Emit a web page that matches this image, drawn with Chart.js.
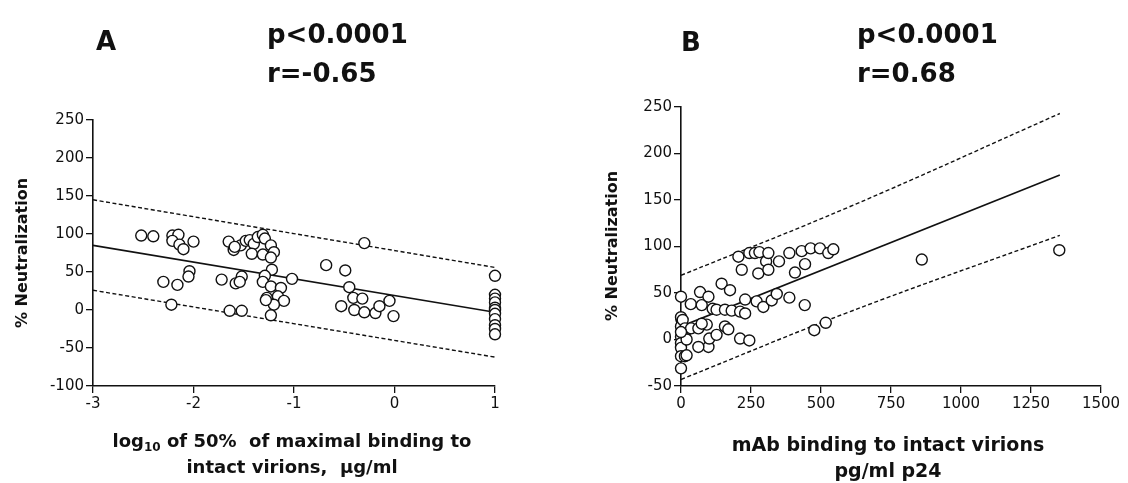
<!DOCTYPE html>
<html>
<head>
<meta charset="utf-8">
<script src="https://cdn.jsdelivr.net/npm/chart.js@4.4.1/dist/chart.umd.min.js"></script>
<style>
  body { margin: 0; background: #fff; width: 1128px; height: 483px; overflow: hidden; position: relative; font-family: "DejaVu Sans", sans-serif; color: #111; }
  .panel { position: absolute; top: 0; width: 560px; height: 483px; }
  .lbl { position: absolute; font-weight: bold; white-space: nowrap; line-height: 1; }
  .big { font-size: 26px; }
  .xt { text-align: center; line-height: 26px; }
  .yt { font-size: 16px; transform: rotate(-90deg); transform-origin: center center; }
  sub { font-size: 12px; vertical-align: -4px; line-height: 0; }
</style>
</head>
<body>
<div class="panel" style="left:0"><canvas id="chartA" width="560" height="483"></canvas></div>
<div class="panel" style="left:560px;width:568px"><canvas id="chartB" width="568" height="483"></canvas></div>

<div class="lbl big" style="left:96px;top:28px">A</div>
<div class="lbl big" style="left:267px;top:21px">p&lt;0.0001</div>
<div class="lbl big" style="left:267px;top:60px">r=-0.65</div>
<div class="lbl big" style="left:681px;top:29px">B</div>
<div class="lbl big" style="left:857px;top:21px">p&lt;0.0001</div>
<div class="lbl big" style="left:857px;top:60px">r=0.68</div>

<div class="lbl yt" style="left:-58px;top:245px;width:160px;text-align:center">% Neutralization</div>
<div class="lbl yt" style="left:532px;top:238px;width:160px;text-align:center">% Neutralization</div>

<div class="lbl xt" style="left:92px;top:428px;width:400px;font-size:18px">log<sub>10</sub> of 50%&nbsp; of maximal binding to<br>intact virions,&nbsp; &micro;g/ml</div>
<div class="lbl xt" style="left:688px;top:431px;width:400px;font-size:19px">mAb binding to intact virions<br>pg/ml p24</div>

<script>
// panel A: log10 half-max binding vs % neutralization
var pointsA = [
    [-2.52, 98], [-2.40, 97], [-2.21, 98], [-2.15, 99], [-2.21, 91], [-2.14, 86], [-2.10, 80], [-2.00, 90],
    [-1.65, 90], [-1.60, 79], [-1.53, 85], [-1.48, 91], [-1.59, 83], [-1.44, 92], [-1.40, 87], [-1.42, 74],
    [-1.36, 96], [-1.31, 99], [-1.29, 94], [-1.23, 85], [-1.31, 73], [-1.20, 76], [-1.23, 69], [-1.22, 53],
    [-1.29, 45], [-1.31, 37], [-1.23, 31], [-1.13, 29], [-1.27, 16], [-1.16, 18], [-1.10, 12], [-1.20, 7],
    [-1.28, 13], [-1.23, -7], [-1.02, 41], [-0.68, 59], [-2.04, 51], [-2.05, 44], [-2.30, 37], [-2.16, 33],
    [-2.22, 7], [-1.72, 40], [-1.52, 44], [-1.58, 35], [-1.54, 37], [-1.64, -1], [-1.52, -1],
    [-0.30, 88], [-0.49, 52], [-0.45, 30], [-0.41, 16], [-0.32, 15], [-0.53, 5], [-0.40, 0], [-0.30, -3],
    [-0.19, -4], [-0.15, 5], [-0.05, 12], [-0.01, -8],
    [1, 45], [1, 20], [1, 15], [1, 10], [1, 3], [1, 0], [1, -5], [1, -12], [1, -20], [1, -25], [1, -32]
];
var fitA = [[-3, 85], [1, -3]];
var upperA = [[-3, 145], [1, 56]];
var lowerA = [[-3, 26], [1, -62]];
var xTicksA = [-3, -2, -1, 0, 1];
var yTicksA = [-100, -50, 0, 50, 100, 150, 200, 250];

// panel B: mAb binding (pg/ml p24) vs % neutralization
var pointsB = [
    [0, 46], [2, 21], [0, 24], [0, 14], [6, 21], [0, 3], [0, -4], [0, -9], [0, -18], [0, -31], [14, -18],
    [20, -17], [20, 10], [14, 12], [20, 0], [36, 12], [35, 38], [0, 8],
    [62, 12], [68, 51], [74, 37], [92, 16], [98, 46], [98, -8], [101, 1], [62, -8], [74, 17],
    [113, 33], [127, 32], [127, 5], [145, 60], [157, 32], [157, 14], [169, 11], [175, 53], [181, 31],
    [205, 89], [211, 30], [211, 1], [217, 75], [229, 43], [229, 28], [244, -1], [244, 93], [264, 93],
    [270, 41], [276, 71], [280, 94], [294, 35], [304, 84], [312, 93], [312, 75], [324, 42], [342, 49],
    [350, 84], [387, 93], [387, 45], [407, 72], [431, 95], [443, 81], [442, 37], [463, 98], [496, 98],
    [526, 93], [544, 97], [476, 10], [517, 18], [860, 86], [1351, 96]
];
var fitB = [[0, 14], [1353, 177]];
var upperB = [[0, 69], [604, 143], [1353, 243]];
var lowerB = [[0, -43], [604, 30], [1353, 112]];
var xTicksB = [0, 250, 500, 750, 1000, 1250, 1500];
var yTicksB = [-50, 0, 50, 100, 150, 200, 250];

Chart.defaults.font.family = '"DejaVu Sans", sans-serif';
Chart.defaults.color = '#111';
Chart.defaults.animation = false;

function toXY(arr) {
    return arr.map(function (p) { return { x: p[0], y: p[1] }; });
}

function makeScatter(id, pts, fit, upper, lower, xTicks, yTicks, box) {
    var ctx = document.getElementById(id);
    var lineSet = function (data, dash, width) {
        return {
            type: 'line',
            data: toXY(data),
            borderColor: '#111',
            borderWidth: width,
            borderDash: dash,
            pointRadius: 0,
            fill: false,
            tension: dash.length ? 0.4 : 0,
            order: 2,
        };
    };
    var plain = function (value) { return String(value); };
    return new Chart(ctx, {
        type: 'scatter',
        data: {
            datasets: [{
                data: toXY(pts),
                pointRadius: 5.5,
                pointBackgroundColor: '#fff',
                pointBorderColor: '#111',
                pointBorderWidth: 1.4,
                clip: false,
                order: 1,
            },
                lineSet(fit, [], 1.6),
                lineSet(upper, [4, 2.5], 1.4),
                lineSet(lower, [4, 2.5], 1.4)
            ],
        },
        options: {
            responsive: false,
            layout: {
                padding: { left: 0, top: box.top, right: box.right, bottom: 0 }
            },
            plugins: { legend: { display: false }, tooltip: { enabled: false } },
            scales: {
                x: {
                    type: 'linear',
                    min: xTicks[0],
                    max: xTicks[xTicks.length - 1],
                    afterFit: function (scale) { scale.height = box.xh; },
                    afterBuildTicks: function (scale) {
                        scale.ticks = xTicks.map(function (v) { return { value: v }; });
                    },
                    grid: { drawOnChartArea: false, drawTicks: true, tickLength: 7, color: '#111', lineWidth: 1.3 },
                    border: { display: true, color: '#111', width: 1.6 },
                    ticks: { font: { size: 15 }, padding: 2, maxRotation: 0, callback: plain },
                },
                y: {
                    type: 'linear',
                    min: yTicks[0],
                    max: yTicks[yTicks.length - 1],
                    afterFit: function (scale) { scale.width = box.left; },
                    afterBuildTicks: function (scale) {
                        scale.ticks = yTicks.map(function (v) { return { value: v }; });
                    },
                    grid: { drawOnChartArea: false, drawTicks: true, tickLength: 7, color: '#111', lineWidth: 1.3 },
                    border: { display: true, color: '#111', width: 1.6 },
                    ticks: { font: { size: 15 }, padding: 2, callback: plain },
                },
            },
        },
    });
}

makeScatter('chartA', pointsA, fitA, upperA, lowerA, xTicksA, yTicksA, { left: 93, top: 120, right: 65, xh: 97 });
makeScatter('chartB', pointsB, fitB, upperB, lowerB, xTicksB, yTicksB, { left: 121, top: 107, right: 27, xh: 97 });
</script>
</body>
</html>
